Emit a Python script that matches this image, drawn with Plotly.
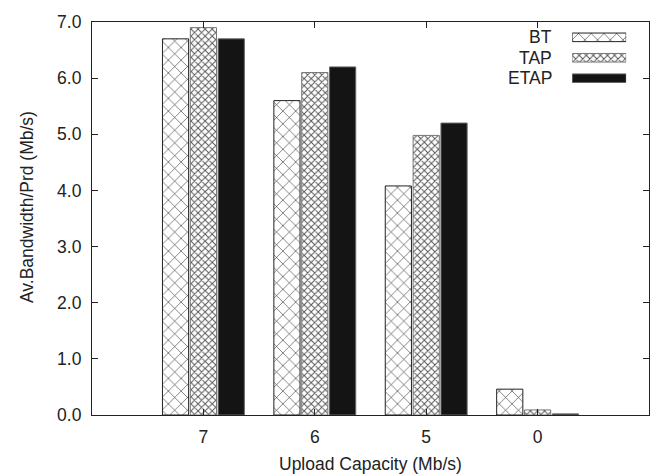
import plotly.graph_objects as go

categories = ["7", "6", "5", "0"]
series_names = ["BT", "TAP", "ETAP"]
bt_values = [6.70, 5.60, 4.08, 0.46]
tap_values = [6.90, 6.10, 4.98, 0.09]
etap_values = [6.70, 6.20, 5.20, 0.02]
y_ticks = [0, 1, 2, 3, 4, 5, 6, 7]
y_tick_labels = ["0.0", "1.0", "2.0", "3.0", "4.0", "5.0", "6.0", "7.0"]
x_title = "Upload Capacity (Mb/s)"
y_title = "Av.Bandwidth/Prd (Mb/s)"

FONT = "Liberation Sans, Arial, sans-serif"
FS = 17.5

styles = {
    "BT": dict(color="white", pattern=dict(shape="x", size=9, solidity=0.12, fgcolor="#222", bgcolor="white", fillmode="replace"),
               line=dict(color="#222", width=1)),
    "TAP": dict(color="white", pattern=dict(shape="x", size=5, solidity=0.35, fgcolor="#555", bgcolor="white", fillmode="replace"),
                line=dict(color="#777", width=1)),
    "ETAP": dict(color="#141414", line=dict(color="#666", width=1)),
}

fig = go.Figure()
for name, vals in zip(series_names, [bt_values, tap_values, etap_values]):
    fig.add_trace(go.Bar(x=categories, y=vals, name=name, marker=styles[name], showlegend=False,
                         xaxis="x", yaxis="y"))

# custom gnuplot-style legend: samples on an auxiliary axis
for name in series_names:
    fig.add_trace(go.Bar(y=[name], x=[1], base=0, orientation="h", marker=styles[name], width=0.42,
                         showlegend=False, xaxis="x2", yaxis="y2", hoverinfo="skip"))

fig.update_layout(
    width=651, height=474,
    margin=dict(l=92, r=2, t=22, b=59),
    paper_bgcolor="white", plot_bgcolor="white",
    barmode="group", bargap=0.25, bargroupgap=0.06,
    font=dict(family=FONT, size=FS, color="#222"),
    xaxis=dict(type="category", range=[-1, 4], showline=True, linecolor="#222", linewidth=1.2, mirror="ticks",
               ticks="inside", ticklen=6, tickcolor="#222", showgrid=False, zeroline=False,
               ticklabelstandoff=6, tickfont=dict(size=FS)),
    yaxis=dict(range=[0, 7], tickvals=y_ticks, ticktext=y_tick_labels, showline=True, linecolor="#222",
               linewidth=1.2, mirror="ticks", ticks="inside", ticklen=6, tickcolor="#222", showgrid=False,
               zeroline=False, ticklabelstandoff=6, tickfont=dict(size=FS)),
    xaxis2=dict(domain=[0.862, 0.959], range=[0, 1], visible=False, anchor="y2", fixedrange=True),
    yaxis2=dict(domain=[0.831, 0.987], visible=False, anchor="x2", type="category",
                categoryorder="array", categoryarray=list(reversed(series_names)), range=[-0.5, 2.5]),
    showlegend=False,
)

# axis titles
fig.add_annotation(x=0.5, xref="paper", y=-0.125, yref="paper", text=x_title, showarrow=False,
                   xanchor="center", yanchor="middle", font=dict(size=FS, family=FONT, color="#222"))
fig.add_annotation(x=-0.118, xref="paper", y=0.53, yref="paper", text=y_title, showarrow=False,
                   textangle=-90, xanchor="center", yanchor="middle", font=dict(size=FS, family=FONT, color="#222"))

# legend labels, right aligned left of samples
for name in series_names:
    fig.add_annotation(x=0.83, xref="paper", y=name, yref="y2", text=name, showarrow=False,
                       xanchor="right", yanchor="middle", font=dict(size=FS, family=FONT, color="#222"))

fig.write_html("out.html")
